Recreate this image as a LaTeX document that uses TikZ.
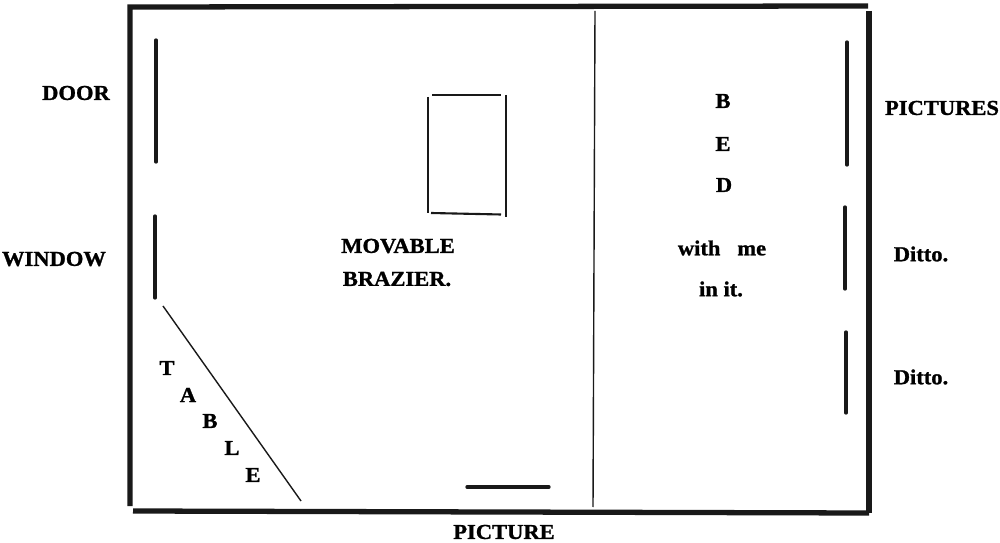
\documentclass[tikz,border=0pt]{standalone}
\usepackage{fontspec}
\setmainfont[FakeStretch=1.06,FakeBold=1.2]{Liberation Serif}
\usepackage{tikz}
\begin{document}
\begin{tikzpicture}[
    x=0.02cm, y=-0.02cm,
    every node/.style={font=\fontsize{12.1}{15}\selectfont\bfseries, inner sep=0pt},
    wall/.style={line width=3pt, black!90},
    mark line/.style={line width=1.9pt, black!90, line cap=round},
    thin line/.style={line width=0.8pt, black!90},
    brazier end/.style={line width=1.2pt, black!90},
]
\useasboundingbox (0,0) rectangle (1000,543);
% room
\draw[wall] (130,506) -- (130,7) -- (868,6);
\draw[wall] (869,11) -- (869,513);
\draw[wall] (133,511) -- (869,513);
\draw[thin line] (595,11) -- (593,507);
% wall marks
\draw[mark line] (156,40) -- (156,162);
\draw[mark line] (155,216) -- (155,298);
\draw[mark line] (847,42) -- (847,165);
\draw[mark line] (845,207) -- (845,289);
\draw[mark line] (846,332) -- (846,413);
\draw[mark line] (467,487) -- (549,487);
% brazier
\draw[brazier end] (432,95) -- (501,95);
\draw[thin line] (428,97) -- (428,213);
\draw[thin line] (506,95) -- (506,217);
\draw[brazier end] (431,213) -- (501,214.5);
% table
\draw[thin line] (163,306) -- (301,501);
% labels
\node (door) at (76,93) {DOOR};
\node (window) at (54,259) {WINDOW};
\node (pictures) at (942,108) {PICTURES};
\node (dittoa) at (921,254) {Ditto.};
\node (dittob) at (921,377) {Ditto.};
\node (picture) at (504,532) {PICTURE};
\node (movable) at (398,246) {MOVABLE};
\node (brazier) at (397,279) {BRAZIER.};
\node (withme) at (722,248) {with\ \ \ me};
\node (init) at (721,289) {in it.};
\node (bedb) at (723,101) {B};
\node (bede) at (723,144) {E};
\node (bedd) at (724,185) {D};
\node (tablet) at (167,368) {T};
\node (tablea) at (188,395) {A};
\node (tableb) at (210,421) {B};
\node (tablel) at (232,448) {L};
\node (tablee) at (253,475) {E};
\end{tikzpicture}
\end{document}
